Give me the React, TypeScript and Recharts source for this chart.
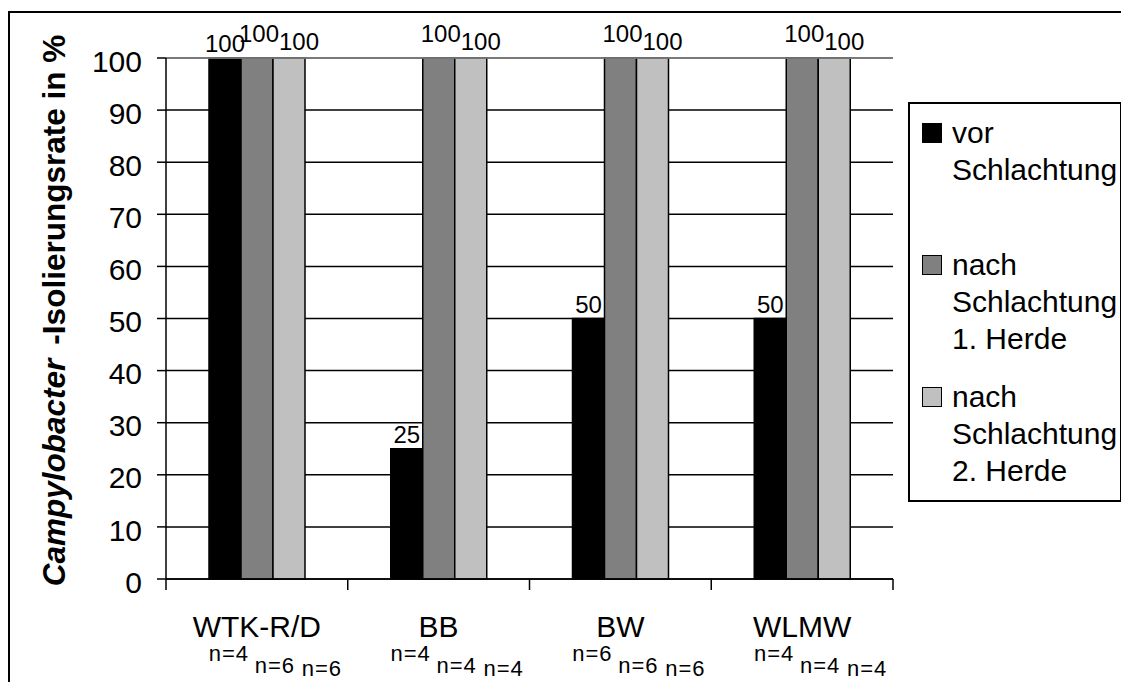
import { BarChart, Bar, XAxis, YAxis, CartesianGrid, LabelList, ReferenceLine } from 'recharts';

const FONT = '"Liberation Sans", Arial, Helvetica, sans-serif';

// groups on the x axis
const CATEGORIES = ['WTK-R/D', 'BB', 'BW', 'WLMW'];

// isolation rate in %
const VOR = [100, 25, 50, 50];
const NACH_1 = [100, 100, 100, 100];
const NACH_2 = [100, 100, 100, 100];

// sample sizes printed under each group
const N_VOR = [4, 4, 6, 4];
const N_NACH_1 = [6, 4, 6, 4];
const N_NACH_2 = [6, 4, 6, 4];

const Y_TICKS = [0, 10, 20, 30, 40, 50, 60, 70, 80, 90, 100];

const SERIES = [
  { key: 'vor', name: 'vor\nSchlachtung', color: '#000000' },
  { key: 'nach1', name: 'nach\nSchlachtung\n1. Herde', color: '#808080' },
  { key: 'nach2', name: 'nach\nSchlachtung\n2. Herde', color: '#c0c0c0' },
];

const data = CATEGORIES.map((name, i) => ({
  name,
  vor: VOR[i],
  nach1: NACH_1[i],
  nach2: NACH_2[i],
}));

// layout
const CHART_W = 1119;
const CHART_H = 669;
const MARGIN = { top: 45, right: 236, bottom: 0, left: 0 };
const Y_AXIS_W = 156;
const X_AXIS_H = 103;
const PLOT_W = CHART_W - MARGIN.right - Y_AXIS_W;

// value labels are staggered a little, like the old spreadsheet output
const LABEL_OFFSETS = [
  { dx: 0, dy: -6 },
  { dx: 2, dy: -16 },
  { dx: 10, dy: -8 },
];

// n= labels under each group
const N_DX = [-28, 18, 65];
const N_DY = [82, 94, 97];

const makeValueLabel = (s: number) => (props: any) => {
  const { x, y, width, value } = props;
  const o = LABEL_OFFSETS[s];
  return (
    <text
      x={Number(x) + Number(width) / 2 + o.dx}
      y={Number(y) + o.dy}
      textAnchor="middle"
      fontSize={24}
      fontFamily={FONT}
      fill="#000"
    >
      {value}
    </text>
  );
};

const CategoryTick = (props: any) => {
  const { x, y, payload } = props;
  const idx = CATEGORIES.indexOf(payload.value);
  const band = PLOT_W / CATEGORIES.length;
  const ns = [N_VOR[idx], N_NACH_1[idx], N_NACH_2[idx]];
  return (
    <g>
      <line x1={x - band / 2} x2={x - band / 2} y1={y} y2={y + 11} stroke="#000" strokeWidth={1.5} />
      {idx === CATEGORIES.length - 1 && (
        <line x1={x + band / 2} x2={x + band / 2} y1={y} y2={y + 11} stroke="#000" strokeWidth={1.5} />
      )}
      <text x={x} y={y + 58} textAnchor="middle" fontSize={30} fontFamily={FONT} fill="#000">
        {payload.value}
      </text>
      {ns.map((n, i) => (
        <text
          key={i}
          x={x + N_DX[i]}
          y={y + N_DY[i]}
          textAnchor="middle"
          fontSize={22}
          letterSpacing={1}
          fontFamily={FONT}
          fill="#000"
        >
          n={n}
        </text>
      ))}
    </g>
  );
};

const YTitle = (props: any) => {
  const vb = props.viewBox || { x: 0, y: MARGIN.top, width: Y_AXIS_W, height: 521 };
  const cx = vb.x + 55;
  const cy = vb.y + vb.height / 2 - 8;
  return (
    <text
      x={cx}
      y={cy}
      transform={`rotate(-90, ${cx}, ${cy})`}
      textAnchor="middle"
      fontSize={31.5}
      fontWeight="bold"
      fontFamily={FONT}
      fill="#000"
    >
      <tspan fontStyle="italic">Campylobacter</tspan>
      <tspan dx={14}>-Isolierungsrate in %</tspan>
    </text>
  );
};

const LegendBox = () => (
  <div
    style={{
      position: 'absolute',
      left: 898,
      top: 89,
      width: 214,
      height: 400,
      border: '2px solid #000',
      boxSizing: 'border-box',
      background: '#fff',
      fontFamily: FONT,
      fontSize: 30,
      lineHeight: '37px',
      color: '#000',
    }}
  >
    {SERIES.map((s, i) => (
      <div key={s.key} style={{ position: 'absolute', left: 0, top: 10 + i * 132, width: '100%' }}>
        <div
          style={{
            position: 'absolute',
            left: 12,
            top: 9,
            width: 20,
            height: 20,
            background: s.color,
            border: '1px solid #000',
            boxSizing: 'border-box',
          }}
        />
        <div style={{ position: 'absolute', left: 42, top: 0, whiteSpace: 'pre' }}>{s.name}</div>
      </div>
    ))}
  </div>
);

export default function App() {
  return (
    <div
      style={{
        position: 'relative',
        marginTop: 3,
        width: 1121,
        height: 671,
        borderTop: '2px solid #000',
        borderLeft: '2px solid #000',
        boxSizing: 'border-box',
        background: '#fff',
      }}
    >
      <BarChart width={CHART_W} height={CHART_H} data={data} margin={MARGIN} barGap={0} barSize={32}>
        <CartesianGrid vertical={false} stroke="#000" strokeWidth={1.5} />
        <XAxis
          dataKey="name"
          height={X_AXIS_H}
          interval={0}
          tickLine={false}
          tickSize={0}
          tickMargin={0}
          axisLine={{ stroke: '#000', strokeWidth: 1.5 }}
          tick={(p: any) => <CategoryTick {...p} />}
        />
        <YAxis
          width={Y_AXIS_W}
          domain={[0, 100]}
          ticks={Y_TICKS}
          interval={0}
          tickSize={9}
          tickMargin={15}
          axisLine={{ stroke: '#000', strokeWidth: 1.5 }}
          tickLine={{ stroke: '#000', strokeWidth: 1.5 }}
          tick={{ fontSize: 30, fill: '#000', fontFamily: FONT, dy: 3 }}
          label={(p: any) => <YTitle {...p} />}
        />
        <YAxis
          yAxisId="frame"
          orientation="right"
          width={0}
          domain={[0, 100]}
          tick={false}
          tickLine={false}
          axisLine={{ stroke: '#8c8c8c', strokeWidth: 1.5 }}
        />
        <ReferenceLine y={100} stroke="#8c8c8c" strokeWidth={1.5} />
        {SERIES.map((s, i) => (
          <Bar
            key={s.key}
            dataKey={s.key}
            name={s.name}
            fill={s.color}
            stroke="#000"
            strokeWidth={1.5}
            isAnimationActive={false}
          >
            <LabelList dataKey={s.key} content={makeValueLabel(i)} />
          </Bar>
        ))}
      </BarChart>
      <LegendBox />
    </div>
  );
}
